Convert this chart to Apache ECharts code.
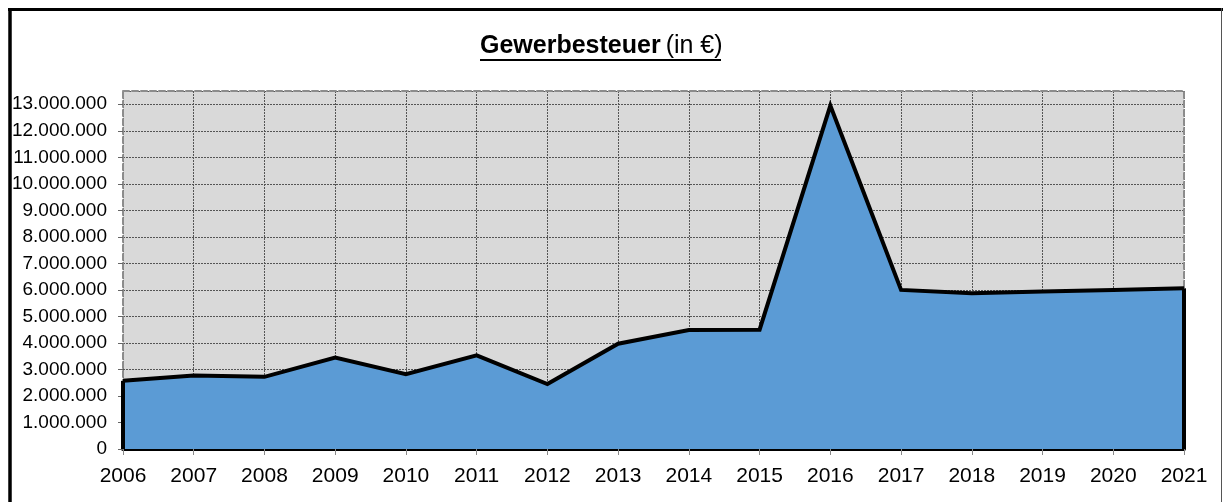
<!DOCTYPE html>
<html>
<head>
<meta charset="utf-8">
<script src="https://cdn.jsdelivr.net/npm/echarts@6/dist/echarts.min.js"></script>
<style>
html,body{margin:0;padding:0;background:#fff;}
#chart{width:1223px;height:502px;}
</style>
</head>
<body>
<div id="chart"></div>
<script>
const years = ['2006','2007','2008','2009','2010','2011','2012','2013','2014','2015','2016','2017','2018','2019','2020','2021'];
const gewerbesteuer = [2570000, 2770000, 2720000, 3450000, 2820000, 3530000, 2450000, 3970000, 4490000, 4500000, 12950000, 6000000, 5870000, 5940000, 6000000, 6060000];
const yMin = 0;
const yMax = 13500000;
const yStep = 1000000;
const titleBold = 'Gewerbesteuer';
const titleRest = '(in €)';

function fmt(v){
  return String(Math.round(v)).replace(/\B(?=(\d{3})+(?!\d))/g, '.');
}

const chart = echarts.init(document.getElementById('chart'), null, {renderer:'canvas'});
const FONT = '"Liberation Sans", Arial, sans-serif';
const last = years.length - 1;

chart.setOption({
  animation:false,
  backgroundColor:'#ffffff',
  title:{
    text:'{b|' + titleBold + '} {n|' + titleRest + '}',
    left:480, top:34, padding:0,
    textStyle:{
      rich:{
        b:{fontFamily:FONT, fontSize:25, fontWeight:'bold', color:'#000'},
        n:{fontFamily:FONT, fontSize:25, fontWeight:'normal', color:'#000'}
      }
    }
  },
  graphic:[
    {type:'line', shape:{x1:480, y1:60, x2:721, y2:60}, style:{stroke:'#000', lineWidth:2}},
    {type:'line', shape:{x1:10, y1:8, x2:10, y2:502}, style:{stroke:'#000', lineWidth:3.5}},
    {type:'line', shape:{x1:8, y1:9.5, x2:1223, y2:9.5}, style:{stroke:'#000', lineWidth:3}},
    {type:'line', shape:{x1:1221.5, y1:8, x2:1221.5, y2:502}, style:{stroke:'#555', lineWidth:1}}
  ],
  grid:{left:123, right:39, top:91, bottom:53, show:true, backgroundColor:'#d9d9d9', borderWidth:0},
  xAxis:[{
    type:'category', data:years, boundaryGap:false,
    axisLine:{show:true, onZero:true, lineStyle:{color:'#000', width:4}},
    axisTick:{show:true, length:6, alignWithLabel:true, lineStyle:{color:'#888', width:1}},
    axisLabel:{fontFamily:FONT, fontSize:21, color:'#000', margin:17, interval:0},
    splitLine:{show:true, interval:0, lineStyle:{color:'#555', type:[2,1], width:1}}
  },{
    type:'category', data:years, boundaryGap:false, position:'top',
    axisLine:{show:true, onZero:false, lineStyle:{color:'#8c8c8c', width:2, type:[6,3]}},
    axisTick:{show:false}, axisLabel:{show:false}, splitLine:{show:false}
  }],
  yAxis:[{
    type:'value', min:yMin, max:yMax, interval:yStep,
    axisLine:{show:true, onZero:false, lineStyle:{color:'#8c8c8c', width:2, type:[6,3]}},
    axisTick:{show:true, length:5, lineStyle:{color:'#666', width:1}},
    axisLabel:{fontFamily:FONT, fontSize:19, color:'#000', margin:16, showMaxLabel:false, formatter:fmt},
    splitLine:{show:true, lineStyle:{color:'#555', type:[2,1], width:1}}
  },{
    type:'value', min:yMin, max:yMax, interval:yStep, position:'right',
    axisLine:{show:true, onZero:false, lineStyle:{color:'#8c8c8c', width:2, type:[6,3]}},
    axisTick:{show:false}, axisLabel:{show:false}, splitLine:{show:false}
  }],
  series:[{
    type:'line', data:gewerbesteuer, xAxisIndex:0, yAxisIndex:0,
    symbol:'none', smooth:false,
    lineStyle:{color:'#000', width:4, join:'miter'},
    areaStyle:{color:'#5b9bd5', opacity:1},
    markLine:{
      silent:true, symbol:['none','none'], label:{show:false},
      lineStyle:{color:'#000', width:4, type:'solid'},
      data:[
        [{coord:[years[0], 0]}, {coord:[years[0], gewerbesteuer[0]]}],
        [{coord:[years[last], 0]}, {coord:[years[last], gewerbesteuer[last]]}]
      ]
    }
  }]
});
</script>
</body>
</html>
